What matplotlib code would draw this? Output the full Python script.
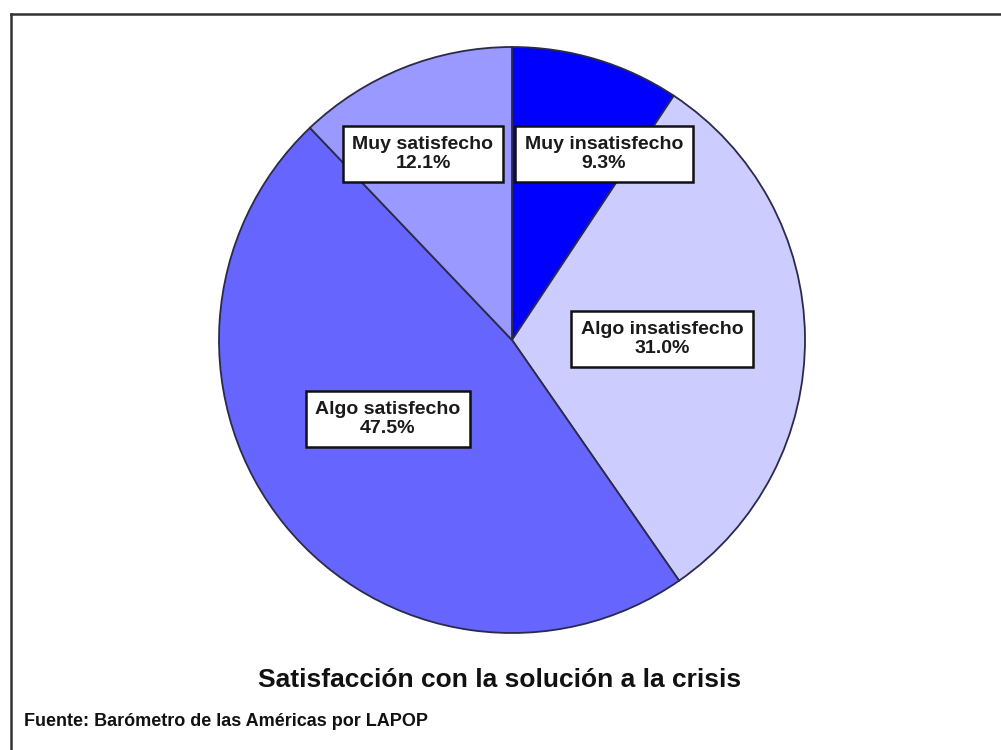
import matplotlib
matplotlib.use("Agg")
import matplotlib.pyplot as plt
from matplotlib.lines import Line2D

# data, clockwise from 12 o'clock
categorias = ["Muy insatisfecho", "Algo insatisfecho", "Algo satisfecho", "Muy satisfecho"]
porcentajes = [9.3, 31.0, 47.5, 12.1]
colores = ["#0000FF", "#CCCCFF", "#6666FF", "#9999FF"]
titulo = "Satisfacción con la solución a la crisis"
fuente = "Fuente: Barómetro de las Américas por LAPOP"

W, H = 1001, 750
plt.rcParams['font.family'] = ['Liberation Sans', 'DejaVu Sans']

fig = plt.figure(figsize=(W / 100, H / 100), dpi=100)
ax = fig.add_axes([0, 0, 1, 1])
ax.set_xlim(0, W)
ax.set_ylim(0, H)
ax.set_aspect('equal')
ax.axis('off')

cx, cy, r = 512, H - 340, 293
wedges, _ = ax.pie(porcentajes, colors=colores, startangle=90, counterclock=False,
                   center=(cx, cy), radius=r,
                   wedgeprops=dict(edgecolor='#2a2a4a', linewidth=1.3))
ax.set_xlim(0, W)
ax.set_ylim(0, H)

# label boxes (pixel positions in the picture)
pos_etiquetas = [(604, 154), (662, 339), (388, 419), (423, 154)]
for cat, val, (px, py) in zip(categorias, porcentajes, pos_etiquetas):
    ax.text(px, H - py, f"{cat}\n{val:.1f}%", ha='center', va='center',
            fontsize=14, fontweight='bold', color='#1a1a1a', linespacing=1.2,
            bbox=dict(boxstyle='square,pad=0.5', facecolor='white',
                      edgecolor='#111111', linewidth=1.8))

fig.text(500 / W, 1 - 680 / H, titulo, ha='center', va='center', fontsize=19,
         fontweight='bold', color='#111111')
fig.text(24 / W, 1 - 721 / H, fuente, ha='left', va='center', fontsize=13,
         fontweight='bold', color='#111111')

# frame only on top and left edge
fig.add_artist(Line2D([10.5 / W, 10.5 / W], [0, 1 - 13.5 / H], color='#333333', linewidth=1.8,
                      transform=fig.transFigure))
fig.add_artist(Line2D([10.5 / W, 1], [1 - 13.5 / H, 1 - 13.5 / H], color='#333333', linewidth=1.8,
                      transform=fig.transFigure))

fig.savefig("out.png", dpi=100)
